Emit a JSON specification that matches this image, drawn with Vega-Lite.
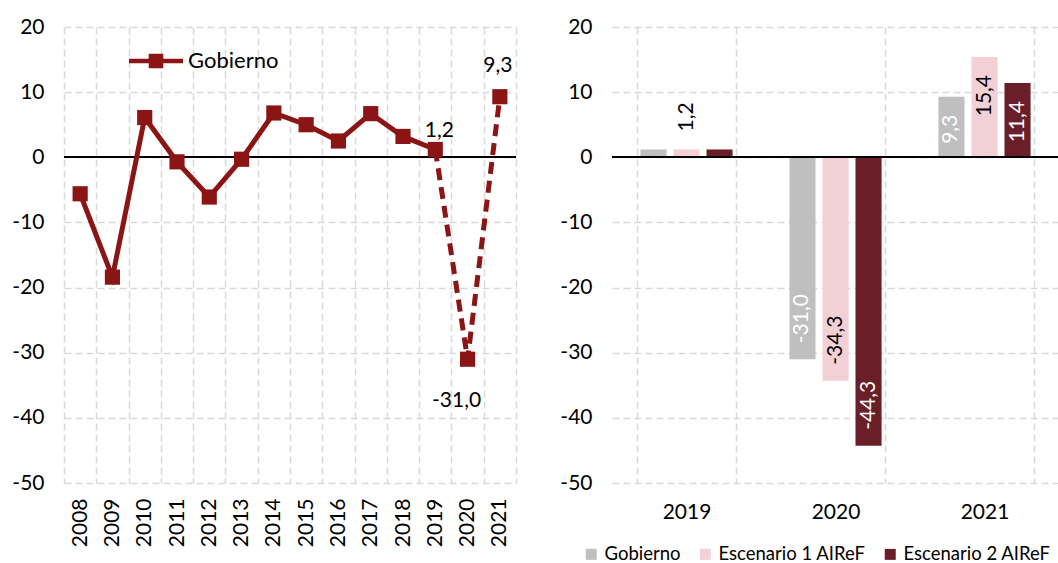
{
  "$schema": "https://vega.github.io/schema/vega-lite/v6.json",
  "padding": {"left": 11, "top": 16, "right": 0, "bottom": 0},
  "spacing": 42,
  "datasets": {
    "gob": [
      {"year": 2008, "serie": "Gobierno", "value": -5.6},
      {"year": 2009, "serie": "Gobierno", "value": -18.4},
      {"year": 2010, "serie": "Gobierno", "value": 6.1},
      {"year": 2011, "serie": "Gobierno", "value": -0.7},
      {"year": 2012, "serie": "Gobierno", "value": -6.1},
      {"year": 2013, "serie": "Gobierno", "value": -0.3},
      {"year": 2014, "serie": "Gobierno", "value": 6.8},
      {"year": 2015, "serie": "Gobierno", "value": 5.0},
      {"year": 2016, "serie": "Gobierno", "value": 2.5},
      {"year": 2017, "serie": "Gobierno", "value": 6.7},
      {"year": 2018, "serie": "Gobierno", "value": 3.2},
      {"year": 2019, "serie": "Gobierno", "value": 1.2},
      {"year": 2020, "serie": "Gobierno", "value": -31.0},
      {"year": 2021, "serie": "Gobierno", "value": 9.3}
    ],
    "esc": [
      {"year": 2019, "serie": "Gobierno", "value": 1.2},
      {"year": 2019, "serie": "Escenario 1 AIReF", "value": 1.2},
      {"year": 2019, "serie": "Escenario 2 AIReF", "value": 1.2},
      {"year": 2020, "serie": "Gobierno", "value": -31.0},
      {"year": 2020, "serie": "Escenario 1 AIReF", "value": -34.3},
      {"year": 2020, "serie": "Escenario 2 AIReF", "value": -44.3},
      {"year": 2021, "serie": "Gobierno", "value": 9.3},
      {"year": 2021, "serie": "Escenario 1 AIReF", "value": 15.4},
      {"year": 2021, "serie": "Escenario 2 AIReF", "value": 11.4}
    ]
  },
  "resolve": {"scale": {"color": "independent"}},
  "hconcat": [
    {
      "width": 452,
      "height": 456,
      "data": {"name": "gob"},
      "layer": [
        {
          "mark": {"type": "rule", "color": "black", "strokeWidth": 1.6},
          "encoding": {
            "y": {"datum": 0, "type": "quantitative", "scale": {"domain": [-50, 20], "nice": false},
                  "axis": {"values": [-50, -40, -30, -20, -10, 0, 10, 20], "labelPadding": 20}}
          }
        },
        {
          "transform": [{"filter": "datum.year <= 2019"}],
          "mark": {"type": "line", "color": "#8B1515", "strokeWidth": 5},
          "encoding": {
            "x": {"field": "year", "type": "ordinal", "bandPosition": 0.5,
                  "scale": {"type": "band", "paddingInner": 0, "paddingOuter": 0},
                  "axis": {"labelAngle": 270, "labelPadding": 15, "tickBand": "extent"}},
            "y": {"field": "value", "type": "quantitative"}
          }
        },
        {
          "transform": [{"filter": "datum.year >= 2019"}],
          "mark": {"type": "line", "color": "#8B1515", "strokeWidth": 5, "strokeDash": [12, 7]},
          "encoding": {
            "x": {"field": "year", "type": "ordinal", "bandPosition": 0.5},
            "y": {"field": "value", "type": "quantitative"}
          }
        },
        {
          "mark": {"type": "point", "shape": "square", "filled": true, "size": 230, "opacity": 1},
          "encoding": {
            "x": {"field": "year", "type": "ordinal", "bandPosition": 0.5},
            "y": {"field": "value", "type": "quantitative"},
            "color": {"field": "serie", "type": "nominal",
                      "scale": {"domain": ["Gobierno"], "range": ["#8B1515"]},
                      "legend": {"orient": "none", "legendX": 65, "legendY": 7, "title": null,
                                 "labelFontSize": 22, "labelColor": "black", "labelOffset": 5,
                                 "symbolSize": 2916,
                                 "symbolType": "M-1,-0.08L-0.27,-0.08L-0.27,-0.27L0.27,-0.27L0.27,-0.08L1,-0.08L1,0.08L0.27,0.08L0.27,0.27L-0.27,0.27L-0.27,0.08L-1,0.08Z",
                                 "symbolStrokeWidth": 0, "symbolOpacity": 1}}
          }
        },
        {
          "transform": [{"filter": "datum.year == 2019"}],
          "mark": {"type": "text", "fontSize": 21, "color": "black", "dx": 4, "dy": -18, "baseline": "middle"},
          "encoding": {
            "x": {"field": "year", "type": "ordinal", "bandPosition": 0.5},
            "y": {"field": "value", "type": "quantitative"},
            "text": {"field": "value", "type": "quantitative", "format": ".1f"}
          }
        },
        {
          "transform": [{"filter": "datum.year == 2021"}],
          "mark": {"type": "text", "fontSize": 21, "color": "black", "dx": -2, "dy": -31, "baseline": "middle"},
          "encoding": {
            "x": {"field": "year", "type": "ordinal", "bandPosition": 0.5},
            "y": {"field": "value", "type": "quantitative"},
            "text": {"field": "value", "type": "quantitative", "format": ".1f"}
          }
        },
        {
          "transform": [{"filter": "datum.year == 2020"}],
          "mark": {"type": "text", "fontSize": 21, "color": "black", "dx": -11, "dy": 42, "baseline": "middle"},
          "encoding": {
            "x": {"field": "year", "type": "ordinal", "bandPosition": 0.5},
            "y": {"field": "value", "type": "quantitative"},
            "text": {"field": "value", "type": "quantitative", "format": ".1f"}
          }
        }
      ]
    },
    {
      "width": 447,
      "height": 456,
      "data": {"name": "esc"},
      "layer": [
        {
          "mark": {"type": "bar"},
          "encoding": {
            "x": {"field": "year", "type": "nominal",
                  "scale": {"paddingInner": 0.335, "paddingOuter": 0.1675},
                  "axis": {"labelAngle": 0, "labelPadding": 18, "tickBand": "extent"}},
            "xOffset": {"field": "serie", "type": "nominal",
                        "sort": ["Gobierno", "Escenario 1 AIReF", "Escenario 2 AIReF"],
                        "scale": {"paddingInner": 0.21, "paddingOuter": 0.105}},
            "y": {"field": "value", "type": "quantitative", "scale": {"domain": [-50, 20], "nice": false},
                  "axis": {"values": [-50, -40, -30, -20, -10, 0, 10, 20], "labelPadding": 20}},
            "color": {"field": "serie", "type": "nominal",
                      "scale": {"domain": ["Gobierno", "Escenario 1 AIReF", "Escenario 2 AIReF"],
                                "range": ["#BFBFBF", "#F2D0D5", "#6A1E28"]},
                      "legend": {"orient": "none", "legendX": -30, "legendY": 518, "title": null,
                                 "direction": "horizontal", "labelFontSize": 18.5, "labelColor": "black",
                                 "symbolType": "square", "symbolSize": 121, "labelOffset": 4,
                                 "columnPadding": 15, "symbolStrokeWidth": 0, "labelLimit": 400}}
          }
        },
        {
          "mark": {"type": "rule", "color": "black", "strokeWidth": 1.6},
          "encoding": {"y": {"datum": 0, "type": "quantitative"}}
        },
        {
          "transform": [{"filter": "datum.value < 0"}],
          "mark": {"type": "text", "fontSize": 21, "angle": 270, "align": "left", "baseline": "middle", "dx": 16},
          "encoding": {
            "x": {"field": "year", "type": "nominal"},
            "xOffset": {"field": "serie", "type": "nominal", "sort": ["Gobierno", "Escenario 1 AIReF", "Escenario 2 AIReF"]},
            "y": {"field": "value", "type": "quantitative"},
            "text": {"field": "value", "type": "quantitative", "format": ".1f"},
            "color": {"condition": {"test": "datum.serie === 'Escenario 1 AIReF'", "value": "black"}, "value": "white"}
          }
        },
        {
          "transform": [{"filter": "datum.value > 5"}],
          "mark": {"type": "text", "fontSize": 21, "angle": 270, "align": "right", "baseline": "middle", "dx": -18},
          "encoding": {
            "x": {"field": "year", "type": "nominal"},
            "xOffset": {"field": "serie", "type": "nominal", "sort": ["Gobierno", "Escenario 1 AIReF", "Escenario 2 AIReF"]},
            "y": {"field": "value", "type": "quantitative"},
            "text": {"field": "value", "type": "quantitative", "format": ".1f"},
            "color": {"condition": {"test": "datum.serie === 'Escenario 1 AIReF'", "value": "black"}, "value": "white"}
          }
        },
        {
          "transform": [{"filter": "datum.year == 2019 && datum.serie === 'Escenario 1 AIReF'"}],
          "mark": {"type": "text", "fontSize": 21, "angle": 270, "align": "left", "baseline": "middle", "dx": 18, "color": "black"},
          "encoding": {
            "x": {"field": "year", "type": "nominal"},
            "xOffset": {"field": "serie", "type": "nominal", "sort": ["Gobierno", "Escenario 1 AIReF", "Escenario 2 AIReF"]},
            "y": {"field": "value", "type": "quantitative"},
            "text": {"field": "value", "type": "quantitative", "format": ".1f"}
          }
        }
      ]
    }
  ],
  "config": {
    "font": "Lato",
    "view": {"stroke": null},
    "axis": {"labelFont": "Lato", "labelFontSize": 21, "labelColor": "black", "domain": false, "ticks": false,
             "grid": true, "gridColor": "#d9d9d9", "gridDash": [7, 4], "gridWidth": 1.5, "title": null},
    "legend": {"labelFont": "Lato"},
    "locale": {"number": {"decimal": ",", "thousands": ".", "grouping": [3], "currency": ["", " €"], "minus": "-"}}
  }
}
